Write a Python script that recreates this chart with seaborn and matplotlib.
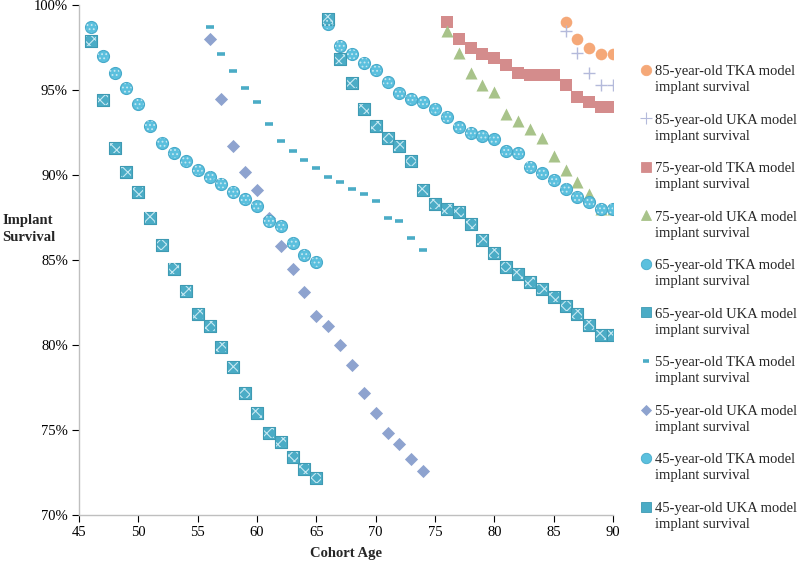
import matplotlib
matplotlib.use("Agg")
import matplotlib.pyplot as plt
from matplotlib.lines import Line2D
from matplotlib.legend_handler import HandlerLine2D
import seaborn as sns
import pandas as pd

# ---------------- data ----------------
ages_85 = [86, 87, 88, 89, 90]
tka_85 = [99.0, 98.0, 97.5, 97.1, 97.1]
uka_85 = [98.5, 97.2, 96.0, 95.3, 95.3]

ages_75 = list(range(76, 91))
tka_75 = [99.0, 98.0, 97.5, 97.1, 96.9, 96.5, 96.0, 95.9, 95.9, 95.9, 95.3, 94.6, 94.3, 94.0, 94.0]
uka_75 = [98.5, 97.2, 96.0, 95.3, 94.9, 93.6, 93.2, 92.7, 92.2, 91.1, 90.3, 89.6, 88.9, 88.0, 88.0]

ages_65 = list(range(66, 91))
tka_65 = [98.9, 97.6, 97.1, 96.6, 96.2, 95.5, 94.8, 94.5, 94.3, 93.9, 93.4, 92.8, 92.5, 92.3, 92.1,
          91.4, 91.3, 90.5, 90.1, 89.7, 89.2, 88.7, 88.4, 88.0, 88.0]
uka_65 = [99.2, 96.8, 95.4, 93.9, 92.9, 92.2, 91.7, 90.8, 89.1, 88.3, 88.0, 87.8, 87.1, 86.2, 85.4,
          84.6, 84.2, 83.7, 83.3, 82.8, 82.3, 81.8, 81.2, 80.6, 80.6]

ages_55 = list(range(56, 75))
tka_55 = [98.7, 97.1, 96.1, 95.1, 94.3, 93.0, 92.0, 91.4, 90.9, 90.4, 89.9, 89.6, 89.2, 88.9, 88.5,
          87.5, 87.3, 86.3, 85.6]
uka_55 = [98.0, 94.5, 91.7, 90.2, 89.1, 87.5, 85.8, 84.5, 83.1, 81.7, 81.1, 80.0, 78.8, 77.2, 76.0,
          74.8, 74.2, 73.3, 72.6]

ages_45 = list(range(46, 66))
tka_45 = [98.7, 97.0, 96.0, 95.1, 94.2, 92.9, 91.9, 91.3, 90.8, 90.3, 89.9, 89.5, 89.0, 88.6, 88.2,
          87.3, 87.0, 86.0, 85.3, 84.9]
uka_45 = [97.9, 94.4, 91.6, 90.2, 89.0, 87.5, 85.9, 84.5, 83.2, 81.8, 81.1, 79.9, 78.7, 77.2, 76.0,
          74.8, 74.3, 73.4, 72.7, 72.2]

labels = ["85-year-old TKA model\nimplant survival",
          "85-year-old UKA model\nimplant survival",
          "75-year-old TKA model\nimplant survival",
          "75-year-old UKA model\nimplant survival",
          "65-year-old TKA model\nimplant survival",
          "65-year-old UKA model\nimplant survival",
          "55-year-old TKA model\nimplant survival",
          "55-year-old UKA model\nimplant survival",
          "45-year-old TKA model\nimplant survival",
          "45-year-old UKA model\nimplant survival"]

x_ticks = [45, 50, 55, 60, 65, 70, 75, 80, 85, 90]
y_ticks = [70, 75, 80, 85, 90, 95, 100]

# ---------------- style ----------------
sns.set_theme(style="white")
plt.rcParams["font.family"] = ["Liberation Serif", "DejaVu Serif"]
plt.rcParams["hatch.linewidth"] = 0.8

fig = plt.figure(figsize=(7.97, 5.61), dpi=100)
ax = fig.add_axes([79 / 797, 1 - 515 / 561, (613 - 79) / 797, (515 - 5) / 561])

ORANGE = "#F5A878"
LAV = "#B4BADB"
ROSE = "#D48C8C"
GREEN = "#A8C38A"
TEAL = "#4BACC6"
BLUE_C = "#5BC0DE"
DIAM = "#8EA3CF"

series = [
    (ages_85, tka_85, dict(marker="o", s=70, color=ORANGE, linewidth=0)),
    (ages_85, uka_85, dict(marker="+", s=80, color=LAV, linewidth=1.0)),
    (ages_75, tka_75, dict(marker="s", s=70, color=ROSE, linewidth=0)),
    (ages_75, uka_75, dict(marker="^", s=75, color=GREEN, linewidth=0)),
    (ages_65, tka_65, dict(marker="o", s=75, color=BLUE_C, edgecolor="#47AACA", linewidth=0.8)),
    (ages_65, uka_65, dict(marker="s", s=70, color=TEAL, edgecolor="#3E9AB3", linewidth=0.8)),
    (ages_55, tka_55, dict(marker="_", s=40, color=TEAL, linewidth=2.6)),
    (ages_55, uka_55, dict(marker="D", s=45, color=DIAM, linewidth=0)),
    (ages_45, tka_45, dict(marker="o", s=75, color=BLUE_C, edgecolor="#47AACA", linewidth=0.8)),
    (ages_45, uka_45, dict(marker="s", s=70, color=TEAL, edgecolor="#3E9AB3", linewidth=0.8)),
]
hatches = {4: "....", 5: "xxx", 8: "....", 9: "xxx"}

for i, (xs, ys, kw) in enumerate(series):
    df = pd.DataFrame({"age": xs, "survival": ys})
    sns.scatterplot(data=df, x="age", y="survival", ax=ax, zorder=3 + i * 0.01, **kw)
    if i in hatches:
        sns.scatterplot(data=df, x="age", y="survival", ax=ax, marker=kw["marker"], s=kw["s"] * 0.75,
                        facecolor="none", edgecolor="#C6E8F2", linewidth=0, hatch=hatches[i],
                        zorder=3.5 + i * 0.01)

ax.set_xlim(45, 90)
ax.set_ylim(70, 100)
ax.set_xticks(x_ticks)
ax.set_yticks(y_ticks)
ax.set_yticklabels([f"{v}%" for v in y_ticks])
ax.tick_params(axis="both", labelsize=10.5, colors="#000000", length=5, width=0.8,
               direction="out", bottom=True, left=True, pad=3)
for t in ax.get_xticklines() + ax.get_yticklines():
    t.set_color("#BFBFBF")
for side in ["top", "right"]:
    ax.spines[side].set_visible(False)
for side in ["left", "bottom"]:
    ax.spines[side].set_color("#BFBFBF")
    ax.spines[side].set_linewidth(1.0)
ax.grid(False)

ax.set_xlabel("Cohort Age", fontsize=10.5, fontweight="bold", labelpad=6)
ax.set_ylabel("")
fig.text(0.003, 1 - 229 / 561, "Implant\nSurvival", fontsize=10.5, fontweight="bold",
         ha="left", va="center", linespacing=1.35)


# legend: marker aligned with first text line
class UpHandler(HandlerLine2D):
    def create_artists(self, legend, orig_handle, xdescent, ydescent, width, height,
                       fontsize, trans):
        arts = super().create_artists(legend, orig_handle, xdescent, ydescent, width, height,
                                      fontsize, trans)
        for a in arts:
            a.set_ydata([y + 0.66 * fontsize for y in a.get_ydata()])
        return arts


handles = []
for i, (xs, ys, kw) in enumerate(series):
    m = kw["marker"]
    c = kw["color"]
    ms = {"o": 7.5, "s": 7.5, "^": 7.5, "D": 5.5, "+": 8.5, "_": 5}[m]
    if m in ("+", "_"):
        h = Line2D([], [], linestyle="none", marker=m, markersize=ms, color=c,
                   markeredgewidth=kw["linewidth"] if m == "_" else 0.8)
    else:
        h = Line2D([], [], linestyle="none", marker=m, markersize=ms, markerfacecolor=c,
                   markeredgecolor=kw.get("edgecolor", c), markeredgewidth=0.6)
    handles.append(h)

leg = fig.legend(handles, labels, loc="upper left", bbox_to_anchor=(641 / 797, 1 - 65 / 561),
                 frameon=False, fontsize=10.5, handlelength=0.7, handletextpad=0.25,
                 labelspacing=1.34, borderpad=0, borderaxespad=0,
                 handler_map={Line2D: UpHandler()})
for t in leg.get_texts():
    t.set_linespacing(1.3)

fig.savefig("out.png", dpi=100)
